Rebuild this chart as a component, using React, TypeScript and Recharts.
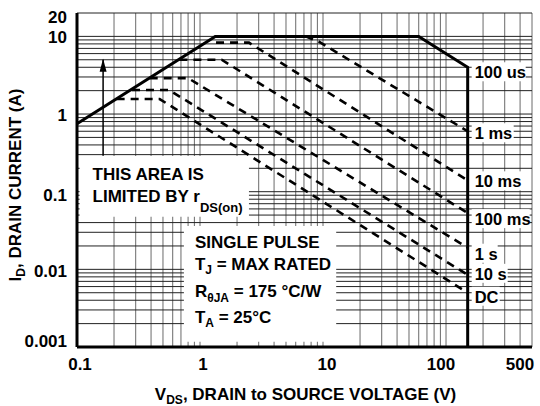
import React from 'react'
import { LineChart, Line, XAxis, YAxis, CartesianGrid, ReferenceArea, ReferenceDot } from 'recharts'

// V_DS (V) vs I_D (A)
const envelope100us = [
  { v: 0.1, i: 0.75 },
  { v: 1.33, i: 10 },
  { v: 60, i: 10 },
  { v: 150, i: 4 },
  { v: 150, i: 0.001 },
]
const pulse1ms = [{ v: 7.2, i: 10 }, { v: 9.2, i: 8.6 }, { v: 150, i: 0.6 }]
const pulse10ms = [{ v: 1.35, i: 8.3 }, { v: 2.5, i: 8.3 }, { v: 150, i: 0.14 }]
const pulse100ms = [{ v: 0.68, i: 5 }, { v: 1.5, i: 5 }, { v: 150, i: 0.053 }]
const pulse1s = [{ v: 0.39, i: 2.9 }, { v: 0.8, i: 2.9 }, { v: 150, i: 0.019 }]
const pulse10s = [{ v: 0.28, i: 2.04 }, { v: 0.56, i: 2.04 }, { v: 150, i: 0.0085 }]
const pulseDC = [{ v: 0.21, i: 1.56 }, { v: 0.47, i: 1.56 }, { v: 150, i: 0.005 }]
const rdsArrow = [{ v: 0.163, i: 0.29 }, { v: 0.163, i: 5 }]

const curveNames = ['100 us', '1 ms', '10 ms', '100 ms', '1 s', '10 s', 'DC']
const curveEnds = [
  envelope100us[3],
  pulse1ms[2],
  pulse10ms[2],
  pulse100ms[2],
  pulse1s[2],
  pulse10s[2],
  pulseDC[2],
]

const xTicks = [
  0.1, 0.2, 0.3, 0.4, 0.5, 0.6, 0.7, 0.8, 0.9,
  1, 2, 3, 4, 5, 6, 7, 8, 9,
  10, 20, 30, 40, 50, 60, 70, 80, 90,
  100, 200, 300, 400, 500,
]
const yTicks = [
  0.001, 0.002, 0.003, 0.004, 0.005, 0.006, 0.007, 0.008, 0.009,
  0.01, 0.02, 0.03, 0.04, 0.05, 0.06, 0.07, 0.08, 0.09,
  0.1, 0.2, 0.3, 0.4, 0.5, 0.6, 0.7, 0.8, 0.9,
  1, 2, 3, 4, 5, 6, 7, 8, 9,
  10, 20,
]
const xLabels = [0.1, 1, 10, 100, 500]
const yLabels = [0.001, 0.01, 0.1, 1, 10, 20]

// small nudges so labels sit where the original puts them
const xLabelShift = [3, 3, 4, -5, -12]
const yLabelShift = [-6, 2, 3, 1, 1, 4]
const endLabelShift = [5, 2, 1, 6, 6, -1, 4]
const endLabelWidth = [54, 42, 50, 58, 26, 36, 28]

const FONT = "'Liberation Sans', Arial, Helvetica, sans-serif"

const XTick = (props: any) => {
  const { x, y, payload } = props
  const k = xLabels.indexOf(payload.value)
  if (k < 0) return <g />
  return (
    <text x={x + xLabelShift[k]} y={y + 23} textAnchor="middle" fontSize={17} fontWeight="bold" fontFamily={FONT} fill="#000">
      {payload.value}
    </text>
  )
}

const YTick = (props: any) => {
  const { x, y, payload } = props
  const k = yLabels.indexOf(payload.value)
  if (k < 0) return <g />
  return (
    <text x={x - 10} y={y + 6 + yLabelShift[k]} textAnchor="end" fontSize={17} fontWeight="bold" fontFamily={FONT} fill="#000">
      {payload.value}
    </text>
  )
}

const XTitle = (props: any) => {
  const { x, y, width } = props.viewBox
  return (
    <text x={x + width / 2 + 1} y={y + 53} textAnchor="middle" fontSize={17} fontWeight="bold" fontFamily={FONT} fill="#000">
      V<tspan fontSize={12} dy={4}>DS</tspan>
      <tspan dy={-4}>, DRAIN to SOURCE VOLTAGE (V)</tspan>
    </text>
  )
}

const YTitle = (props: any) => {
  const { y, height } = props.viewBox
  const cx = 21
  const cy = y + height / 2 + 5
  return (
    <text x={cx} y={cy} transform={`rotate(-90, ${cx}, ${cy})`} textAnchor="middle" fontSize={17} fontWeight="bold" fontFamily={FONT} fill="#000">
      I<tspan fontSize={12} dy={4}>D</tspan>
      <tspan dy={-4}>, DRAIN CURRENT (A)</tspan>
    </text>
  )
}

const RdsNote = (props: any) => {
  const { x, y } = props.viewBox
  return (
    <g fontSize={17} fontWeight="bold" fontFamily={FONT} fill="#000">
      <text x={x + 13} y={y + 24}>THIS AREA IS</text>
      <text x={x + 13} y={y + 46}>
        LIMITED BY r<tspan fontSize={13} dy={10}>DS(on)</tspan>
      </text>
    </g>
  )
}

const PulseNote = (props: any) => {
  const { x, y } = props.viewBox
  return (
    <g fontSize={17} fontWeight="bold" fontFamily={FONT} fill="#000">
      <text x={x + 11} y={y + 22}>SINGLE PULSE</text>
      <text x={x + 11} y={y + 44}>
        T<tspan fontSize={12} dy={4}>J</tspan>
        <tspan dy={-4}> = MAX RATED</tspan>
      </text>
      <text x={x + 11} y={y + 71}>
        R<tspan fontSize={12} dy={5}>θJA</tspan>
        <tspan dy={-5}> = 175 °C/W</tspan>
      </text>
      <text x={x + 11} y={y + 97}>
        T<tspan fontSize={12} dy={4}>A</tspan>
        <tspan dy={-4}> = 25°C</tspan>
      </text>
    </g>
  )
}

const EndLabel = (props: any) => {
  const { cx, cy, text, shift, w } = props
  return (
    <g>
      <rect x={cx + 4} y={cy + shift - 10} width={w} height={19} fill="#fff" />
      <text x={cx + 7} y={cy + shift + 6} fontSize={16.5} fontWeight="bold" fontFamily={FONT} fill="#000">
        {text}
      </text>
    </g>
  )
}

const ArrowHead = (props: any) => {
  const { cx, cy, index } = props
  if (index !== 1) return <g />
  return <polygon points={`${cx},${cy - 1} ${cx - 3.5},${cy + 12} ${cx + 3.5},${cy + 12}`} fill="#000" />
}

const dashed = { stroke: '#000', strokeWidth: 2.6, strokeDasharray: '8 6', dot: false, isAnimationActive: false, type: 'linear' as const }

export default function App() {
  return (
    <div style={{ position: 'absolute', left: 0, top: 0, width: 540, height: 406, background: '#fff' }}>
      <LineChart width={540} height={406} margin={{ top: 13, right: 8, bottom: 0, left: 8 }}>
        <CartesianGrid horizontal={false} stroke="#6a6a6a" strokeWidth={1} />
        <CartesianGrid vertical={false} stroke="#222" strokeWidth={1} />
        <XAxis
          type="number"
          dataKey="v"
          scale="log"
          domain={[0.1, 500]}
          ticks={xTicks}
          interval={0}
          allowDataOverflow
          height={59}
          tickSize={0}
          tickMargin={0}
          tickLine={false}
          tick={<XTick />}
          axisLine={{ stroke: '#000', strokeWidth: 3 }}
          label={<XTitle />}
        />
        <YAxis
          type="number"
          dataKey="i"
          scale="log"
          domain={[0.001, 20]}
          ticks={yTicks}
          interval={0}
          allowDataOverflow
          width={69}
          tickSize={0}
          tickMargin={0}
          tickLine={false}
          tick={<YTick />}
          axisLine={{ stroke: '#000', strokeWidth: 3 }}
          label={<YTitle />}
        />
        <ReferenceArea x1={0.105} x2={2.5} y1={0.0474} y2={0.289} fill="#fff" fillOpacity={1} stroke="none" label={<RdsNote />} />
        <ReferenceArea x1={0.74} x2={12.8} y1={0.00117} y2={0.0362} fill="#fff" fillOpacity={1} stroke="none" label={<PulseNote />} />

        <Line data={pulse1ms} dataKey="i" {...dashed} />
        <Line data={pulse10ms} dataKey="i" {...dashed} />
        <Line data={pulse100ms} dataKey="i" {...dashed} />
        <Line data={pulse1s} dataKey="i" {...dashed} />
        <Line data={pulse10s} dataKey="i" {...dashed} />
        <Line data={pulseDC} dataKey="i" {...dashed} />
        <Line data={envelope100us} dataKey="i" stroke="#000" strokeWidth={3} dot={false} isAnimationActive={false} type="linear" />
        <Line data={rdsArrow} dataKey="i" stroke="#000" strokeWidth={1.5} dot={<ArrowHead />} isAnimationActive={false} type="linear" />

        {curveEnds.map((p, k) => (
          <ReferenceDot
            key={curveNames[k]}
            x={p.v}
            y={p.i}
            shape={<EndLabel text={curveNames[k]} shift={endLabelShift[k]} w={endLabelWidth[k]} />}
          />
        ))}
      </LineChart>
    </div>
  )
}
